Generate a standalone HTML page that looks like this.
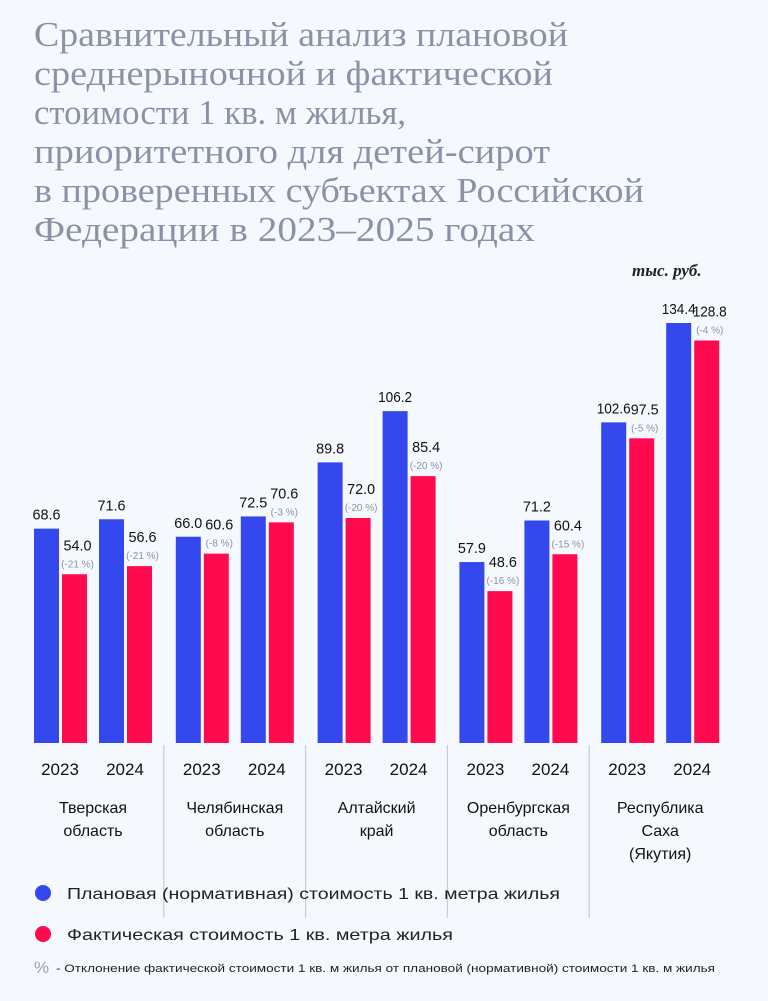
<!DOCTYPE html>
<html><head><meta charset="utf-8"><style>
body{margin:0;background:#f5f9fd;width:768px;height:996px;overflow:hidden;font-family:"Liberation Sans",sans-serif}
</style></head><body>
<svg width="768" height="996" xmlns="http://www.w3.org/2000/svg">
<g font-family="Liberation Serif, serif" font-size="35" fill="#8a93a6" lengthAdjust="spacingAndGlyphs">
<text x="34" y="46" textLength="534" lengthAdjust="spacingAndGlyphs">Сравнительный анализ плановой</text>
<text x="34" y="85" textLength="519" lengthAdjust="spacingAndGlyphs">среднерыночной и фактической</text>
<text x="34" y="124" textLength="372" lengthAdjust="spacingAndGlyphs">стоимости 1 кв. м жилья,</text>
<text x="34" y="163" textLength="516" lengthAdjust="spacingAndGlyphs">приоритетного для детей-сирот</text>
<text x="34" y="202" textLength="610" lengthAdjust="spacingAndGlyphs">в проверенных субъектах Российской</text>
<text x="34" y="241" textLength="501" lengthAdjust="spacingAndGlyphs">Федерации в 2023–2025 годах</text>
</g>
<text x="632" y="276" font-family="Liberation Serif, serif" font-style="italic" font-weight="bold" font-size="17" fill="#222">тыс. руб.</text>
<g id="bars"></g>
<g>
<circle cx="43" cy="893" r="8" fill="#3448ee"/>
<text x="67" y="899" font-size="16" fill="#222" textLength="493" lengthAdjust="spacingAndGlyphs">Плановая (нормативная) стоимость 1 кв. метра жилья</text>
<circle cx="43" cy="934" r="8" fill="#ff0a4e"/>
<text x="67" y="940" font-size="16" fill="#222" textLength="386" lengthAdjust="spacingAndGlyphs">Фактическая стоимость 1 кв. метра жилья</text>
<text x="34" y="973" font-size="17" fill="#9aa2b3">%</text>
<text x="56" y="972" font-size="11" fill="#222" textLength="659" lengthAdjust="spacingAndGlyphs">- Отклонение фактической стоимости 1 кв. м жилья от плановой (нормативной) стоимости 1 кв. м жилья</text>
</g>
</svg>
<script>
const regions=[["Тверская","область"],["Челябинская","область"],["Алтайский","край"],["Оренбургская","область"],["Республика","Саха","(Якутия)"]];
const years=["2023","2024"];
const planned=[[68.6,71.6],[66.0,72.5],[89.8,106.2],[57.9,71.2],[102.6,134.4]];
const actual=[[54.0,56.6],[60.6,70.6],[72.0,85.4],[48.6,60.4],[97.5,128.8]];
const deviation=[["-21","-21"],["-8","-3"],["-20","-20"],["-16","-15"],["-5","-4"]];
const NS="http://www.w3.org/2000/svg";
const g=document.getElementById('bars');
const base=743, k=3.125, bw=25;
const y=v=>base-v*k;
const gx=i=>34+i*141.8;
function el(t,a,txt){const e=document.createElementNS(NS,t);for(const n in a)e.setAttribute(n,a[n]);if(txt!==undefined)e.textContent=txt;g.appendChild(e);return e;}
const tl=s=>s.length>4?34:28;
regions.forEach((r,i)=>{
 const x0=gx(i);
 years.forEach((yr,j)=>{
  const xb=x0+j*65, xr=xb+28;
  const b=el('rect',{x:xb,y:y(planned[i][j]),width:bw,height:planned[i][j]*k,fill:'#3448ee'});
  
  
  const rr=el('rect',{x:xr,y:y(actual[i][j]),width:bw,height:actual[i][j]*k,fill:'#ff0a4e'});
  
  
  const s1=planned[i][j].toFixed(1), s2=actual[i][j].toFixed(1);
  const t1=el('text',{x:xb+bw/2,y:y(planned[i][j])-9,'text-anchor':'middle','font-size':15,fill:'#111',textLength:tl(s1),lengthAdjust:'spacingAndGlyphs'},s1);
  
  
  const t2=el('text',{x:xr+bw/2+3,y:y(actual[i][j])-24,'text-anchor':'middle','font-size':15,fill:'#111',textLength:tl(s2),lengthAdjust:'spacingAndGlyphs'},s2);
  
  
  const t3=el('text',{x:xr+bw/2+3,y:y(actual[i][j])-7,'text-anchor':'middle','font-size':10,fill:'#8a93a6'},'('+deviation[i][j]+' %)');
  
  
  const ty=el('text',{x:xb+26,y:775,'text-anchor':'middle','font-size':17,fill:'#111'},yr);
  
  
 });
 r.forEach((line,l)=>{
  const tr=el('text',{x:x0+59,y:813+l*23,'text-anchor':'middle','font-size':16,fill:'#111'},line);
  
  
 });
 if(i>0){
  const s=el('line',{x1:x0-12,x2:x0-12,y1:745,y2:918,stroke:'#c8ccd4','stroke-width':1.2});
  
  
 }
});
</script>
</body></html>
